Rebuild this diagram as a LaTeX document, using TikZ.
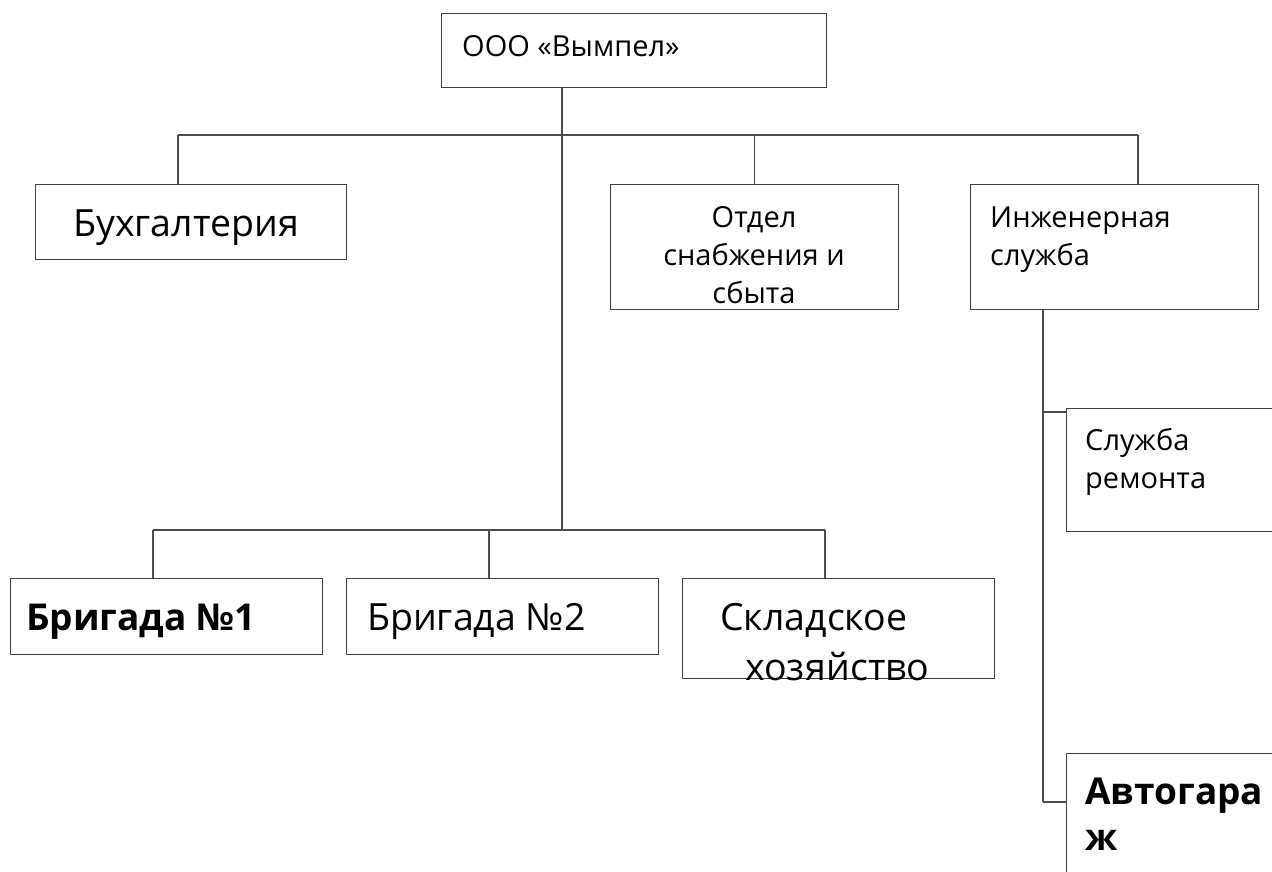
\documentclass[tikz,border=0pt]{standalone}
\usepackage{fontspec}
\setmainfont{Open Sans}
\begin{document}
\begin{tikzpicture}[x=1pt, y=-1pt,
    box/.style={draw=black!75, line width=1.1pt, rectangle, inner sep=0pt, anchor=north west},
    txt/.style={inner sep=0pt, anchor=base west, font=\fontsize{29}{35}\selectfont},
    big/.style={txt, font=\fontsize{37.5}{45}\selectfont},
    bigbold/.style={txt, font=\fontsize{37}{45}\selectfont\bfseries},
    link/.style={draw=black!70, line width=1.1pt}]
  \useasboundingbox (0,0) rectangle (1272,871);

  % boxes
  \node[box, minimum width=385, minimum height=74] (ooo) at (441,13) {};
  \node[box, minimum width=311, minimum height=75] (buh) at (35,184) {};
  \node[box, minimum width=288, minimum height=125] (otd) at (610,184) {};
  \node[box, minimum width=288, minimum height=125] (inz) at (970,184) {};
  \node[box, minimum width=230, minimum height=123] (rem) at (1066,408) {};
  \node[box, minimum width=230, minimum height=160] (avt) at (1066,753) {};
  \node[box, minimum width=312, minimum height=76] (br1) at (10,578) {};
  \node[box, minimum width=312, minimum height=76] (br2) at (346,578) {};
  \node[box, minimum width=312, minimum height=100] (skl) at (682,578) {};

  % texts
  \node[txt] (oooT) at (462,56) {ООО «Вымпел»};
  \node[big] (buhT) at (73,236) {Бухгалтерия};
  \node[txt, anchor=base] (otdT1) at (754,227) {Отдел};
  \node[txt, anchor=base] (otdT2) at (754,265) {снабжения и};
  \node[txt, anchor=base] (otdT3) at (754,303) {сбыта};
  \node[txt] (inzT1) at (990,227) {Инженерная};
  \node[txt] (inzT2) at (990,265) {служба};
  \node[txt] (remT1) at (1085,450) {Служба};
  \node[txt] (remT2) at (1085,488) {ремонта};
  \node[bigbold] (br1T) at (26,630) {Бригада №1};
  \node[big] (br2T) at (367,630) {Бригада №2};
  \node[big] (sklT1) at (720,630) {Складское};
  \node[big] (sklT2) at (745,680) {хозяйство};
  \node[bigbold] (avtT1) at (1085,804) {Автогара};
  \node[bigbold] (avtT2) at (1085,850) {ж};

  % connectors
  \coordinate (trunk) at (562,135);
  \coordinate (j1) at (178,135);
  \coordinate (j4) at (1138,135);
  \coordinate (k1) at (153,530);
  \coordinate (k2) at (489,530);
  \coordinate (k3) at (825,530);
  \coordinate (e1) at (1043,412);
  \coordinate (e2) at (1043,802);

  \draw[link] (trunk |- ooo.south) -- (trunk |- k1);
  \draw[link] (j1) -- (j4);
  \draw[link] (j1) -- (j1 |- buh.north);
  \draw[link] (otd.north) -- (otd.north |- j1);
  \draw[link] (j4) -- (j4 |- inz.north);
  \draw[link] (k1) -- (k3);
  \draw[link] (k1) -- (k1 |- br1.north);
  \draw[link] (k2) -- (k2 |- br2.north);
  \draw[link] (k3) -- (k3 |- skl.north);
  \draw[link] (e1 |- inz.south) -- (e2);
  \draw[link] (e1) -- (e1 -| rem.west);
  \draw[link] (e2) -- (e2 -| avt.west);
\end{tikzpicture}
\end{document}
